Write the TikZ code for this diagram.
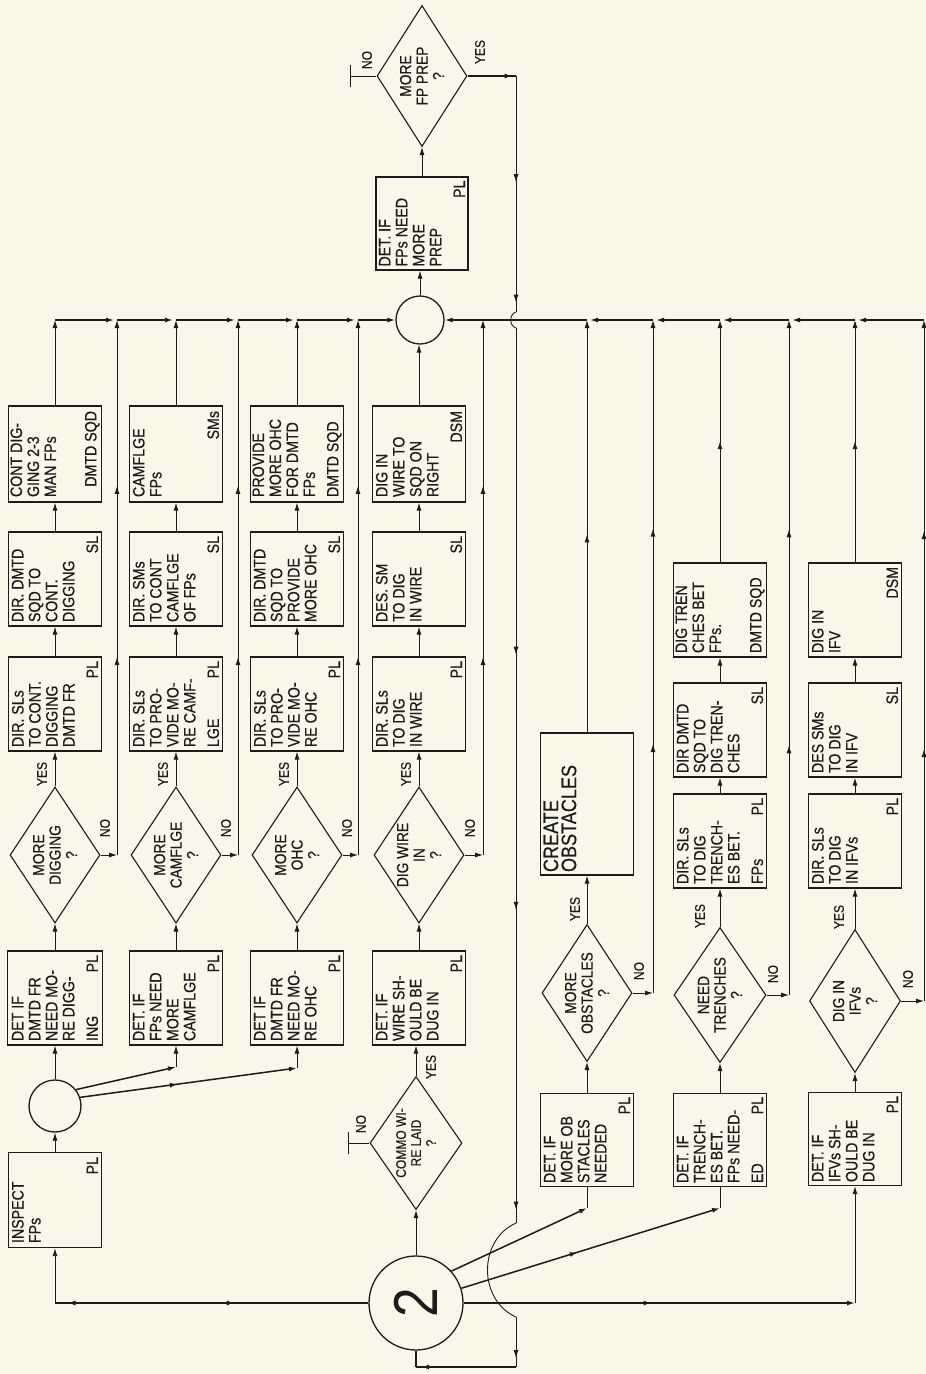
\documentclass[tikz,border=0pt]{standalone}
\usepackage{fontspec}
\setmainfont{Liberation Sans}
\newfontfamily\nrw{Liberation Sans}[FakeStretch=0.86,FakeBold=0.5]
\usetikzlibrary{arrows.meta,decorations.markings,shapes.geometric}
\definecolor{bgc}{RGB}{248,247,234}
\definecolor{ink}{RGB}{28,28,26}
\newcommand\bxfont{\nrw\fontsize{16.5}{17}\selectfont}
\newcommand\dfont{\nrw\fontsize{16}{16.5}\selectfont}
\newcommand\lfont{\nrw\fontsize{14}{14}\selectfont}
\newcommand\rtx[3]{\rotatebox{90}{\parbox[c][#1][s]{#2}{\raggedright\bxfont #3}}}
\newcommand\btx[1]{\rtx{86pt}{86pt}{#1}}
\newcommand\dtx[1]{\rotatebox{90}{\parbox{130pt}{\centering\dfont #1}}}
\tikzset{
  ln/.style={color=ink, line width=0.9pt},
  thk/.style={color=ink, line width=1.5pt},
  arw/.style={-{Latex[length=8pt,width=5pt]}},
  ma/.style={postaction={decorate,decoration={markings,mark=at position #1 with {\arrow{Latex[length=8pt,width=5pt]}}}}},
  bxs/.style={draw=ink, text=ink, line width=1.3pt, rectangle, inner sep=0pt, minimum width=93pt, minimum height=94pt},
  dias/.style={draw=ink, line width=1.1pt, diamond, inner sep=0pt, minimum width=90pt, minimum height=136pt},
  crc/.style={draw=ink, text=ink, line width=1.3pt, circle, inner sep=0pt},
  lab/.style={inner sep=0pt, font=\lfont, rotate=90, text=ink},
  dtxt/.style={inner sep=0pt, text=ink},
}
\begin{document}
\begin{tikzpicture}[x=1pt,y=-1pt]
\useasboundingbox (0,0) rectangle (926,1374);
\fill[bgc] (0,0) rectangle (926,1374);
\coordinate (bus) at (0,320);

% ---------- top ----------
\node[dias, minimum height=141pt] (dia0) at (422,76) {};
\node[dtxt] (dia0t) at (dia0) {\dtx{MORE\\FP PREP\\?}};
\node[bxs, minimum width=92pt, minimum height=93pt] (prep) at (422,223.5) {\btx{DET. IF\\FPs NEED\\MORE\\PREP\par\vfill\hfill PL}};
\node[crc, minimum size=48pt] (c0) at (420,320) {};

% ---------- column 1 ----------
\node[bxs, minimum height=95pt] (insp) at (55,1200) {\btx{INSPECT\\FPs\par\vfill\hfill PL}};
\node[crc, minimum size=52pt] (c1) at (55,1106) {};
\node[bxs, minimum width=95pt] (det1) at (55,998) {\btx{DET IF\\DMTD FR\\NEED MO-\\RE DIGG-\par\vfill ING\hfill PL}};
\node[dias] (dia1) at (55,855) {};
\node[dtxt] (dia1t) at (dia1) {\dtx{MORE\\DIGGING\\?}};
\node[bxs] (dir1a) at (55,704) {\btx{DIR. SLs\\TO CONT.\\DIGGING\\DMTD FR\par\vfill\hfill PL}};
\node[bxs] (dir1b) at (55,579) {\btx{DIR. DMTD\\SQD TO\\CONT.\\DIGGING\par\vfill\hfill SL}};
\node[bxs, minimum height=96pt] (top1) at (55,454) {\btx{CONT DIG-\\GING 2-3\\MAN FPs\par\vfill\hfill DMTD SQD}};

% ---------- column 2 ----------
\node[bxs] (det2) at (176,998) {\btx{DET. IF\\FPs NEED\\MORE\\CAMFLGE\par\vfill\hfill PL}};
\node[dias] (dia2) at (176,855) {};
\node[dtxt] (dia2t) at (dia2) {\dtx{MORE\\CAMFLGE\\?}};
\node[bxs] (dir2a) at (176,704) {\btx{DIR. SLs\\TO PRO-\\VIDE MO-\\RE CAMF-\par\vfill LGE\hfill PL}};
\node[bxs] (dir2b) at (176,579) {\btx{DIR. SMs\\TO CONT\\CAMFLGE\\OF FPs\par\vfill\hfill SL}};
\node[bxs, minimum height=96pt] (top2) at (176,454) {\btx{CAMFLGE\\FPs\par\vfill\hfill SMs}};

% ---------- column 3 ----------
\node[bxs] (det3) at (297,998) {\btx{DET IF\\DMTD FR\\NEED MO-\\RE OHC\par\vfill\hfill PL}};
\node[dias] (dia3) at (297,855) {};
\node[dtxt] (dia3t) at (dia3) {\dtx{MORE\\OHC\\?}};
\node[bxs] (dir3a) at (297,704) {\btx{DIR. SLs\\TO PRO-\\VIDE MO-\\RE OHC\par\vfill\hfill PL}};
\node[bxs] (dir3b) at (297,579) {\btx{DIR. DMTD\\SQD TO\\PROVIDE\\MORE OHC\par\vfill\hfill SL}};
\node[bxs, minimum height=96pt] (top3) at (297,454) {\btx{PROVIDE\\MORE OHC\\FOR DMTD\\FPs\par\vfill DMTD SQD}};

% ---------- column 4 ----------
\node[bxs] (det4) at (419,998) {\btx{DET. IF\\WIRE SH-\\OULD BE\\DUG IN\par\vfill\hfill PL}};
\node[dias] (dia4) at (419,855) {};
\node[dtxt] (dia4t) at (dia4) {\dtx{DIG WIRE\\IN\\?}};
\node[bxs] (dir4a) at (419,704) {\btx{DIR. SLs\\TO DIG\\IN WIRE\par\vfill\hfill PL}};
\node[bxs] (dir4b) at (419,579) {\btx{DES. SM\\TO DIG\\IN WIRE\par\vfill\hfill SL}};
\node[bxs, minimum height=96pt] (top4) at (419,454) {\btx{DIG IN\\WIRE TO\\SQD ON\\RIGHT\par\vfill\hfill DSM}};

% ---------- commo wire / connector 2 ----------
\node[dias, minimum width=92pt, minimum height=133pt] (commo) at (416,1143) {};
\node[dtxt] (commot) at (commo) {\rotatebox{90}{\parbox{130pt}{\centering\nrw\fontsize{14}{15}\selectfont COMMO WI-\\RE LAID\\?}}};
\node[crc, minimum size=94pt] (c2) at (416,1303) {\rotatebox{90}{\fontspec{Liberation Sans}[FakeStretch=0.86]\fontsize{62}{62}\selectfont 2}};

% ---------- column 5 ----------
\node[bxs, minimum height=93pt] (det5) at (587,1140) {\btx{DET. IF\\MORE OB\\STACLES\\NEEDED\par\vfill\hfill PL}};
\node[dias, minimum height=137pt] (dia5) at (587,993) {};
\node[dtxt] (dia5t) at (dia5) {\dtx{MORE\\OBSTACLES\\?}};
\node[bxs, minimum height=142pt] (create) at (587,804) {\rotatebox{90}{\parbox[c][87pt][t]{136pt}{\nrw\fontsize{21}{18}\selectfont CREATE\\OBSTACLES}}};

% ---------- column 6 ----------
\node[bxs, minimum height=93pt] (det6) at (720,1140) {\btx{DET. IF\\TRENCH-\\ES BET.\\FPs NEED-\par\vfill ED\hfill PL}};
\node[dias, minimum width=92pt, minimum height=135pt] (dia6) at (720,995) {};
\node[dtxt] (dia6t) at (dia6) {\dtx{NEED\\TRENCHES\\?}};
\node[bxs] (dir6a) at (720,841) {\btx{DIR. SLs\\TO DIG\\TRENCH-\\ES BET.\par\vfill FPs\hfill PL}};
\node[bxs] (dir6b) at (720,730) {\btx{DIR DMTD\\SQD TO\\DIG TREN-\\CHES\par\vfill\hfill SL}};
\node[bxs] (top6) at (720,610) {\btx{DIG TREN\\CHES BET\\FPs.\par\vfill DMTD SQD}};

% ---------- column 7 ----------
\node[bxs, minimum height=93pt] (det7) at (855,1139) {\btx{DET. IF\\IFVs SH-\\OULD BE\\DUG IN\par\vfill\hfill PL}};
\node[dias, minimum width=91pt, minimum height=143pt] (dia7) at (855,1001) {};
\node[dtxt] (dia7t) at (dia7) {\dtx{DIG IN\\IFVs\\?}};
\node[bxs] (dir7a) at (855,841) {\btx{DIR. SLs\\TO DIG\\IN IFVs\par\vfill\hfill PL}};
\node[bxs] (dir7b) at (855,730) {\btx{DES SMs\\TO DIG\\IN IFV\par\vfill\hfill SL}};
\node[bxs] (top7) at (855,610) {\btx{DIG IN\\IFV\par\vfill\hfill DSM}};

% ---------- coordinates ----------
\coordinate (j1) at (55,320);  \coordinate (j2) at (117,320);
\coordinate (j3) at (176,320); \coordinate (j4) at (238,320);
\coordinate (j5) at (297,320); \coordinate (j6) at (358,320);
\coordinate (r1) at (483,320); \coordinate (r2) at (587,320);
\coordinate (r3) at (653,320); \coordinate (r4) at (720,320);
\coordinate (r5) at (789,320); \coordinate (r6) at (855,320);
\coordinate (r7) at (924,320);
\coordinate (n1) at (117,855); \coordinate (n2) at (238,855);
\coordinate (n3) at (358,855); \coordinate (n4) at (483,855);
\coordinate (n5) at (653,993); \coordinate (n6) at (789,995);
\coordinate (n7) at (924,1001);
\coordinate (b1) at (55,1303);  \coordinate (b2) at (176,1067);
\coordinate (b3) at (297,1068); \coordinate (b5) at (587,1208);
\coordinate (b6) at (720,1208); \coordinate (b7) at (855,1303);
\coordinate (y0) at (516,76);   \coordinate (h1) at (516,312);
\coordinate (h2) at (516,328);  \coordinate (h3) at (516,1223);
\coordinate (h4) at (516,1317); \coordinate (yb) at (516,1367);
\coordinate (yc) at (416,1367);
\coordinate (t0) at (350,76);   \coordinate (tc) at (348,1143);

% ---------- bus ----------
\draw[thk, arw, shorten >=3pt] (j1) -- (j2);
\draw[thk, arw, shorten >=3pt] (j2) -- (j3);
\draw[thk, arw, shorten >=3pt] (j3) -- (j4);
\draw[thk, arw, shorten >=3pt] (j4) -- (j5);
\draw[thk, arw, shorten >=3pt] (j5) -- (j6);
\draw[thk, arw] (j6) -- (c0.west);
\draw[thk, arw, shorten >=3pt] (r7) -- (r6);
\draw[thk, arw, shorten >=3pt] (r6) -- (r5);
\draw[thk, arw, shorten >=3pt] (r5) -- (r4);
\draw[thk, arw, shorten >=3pt] (r4) -- (r3);
\draw[thk, arw, shorten >=3pt] (r3) -- (r2);
\draw[thk] (r2) -- (r1);
\draw[thk, arw] (r1) -- (c0.east);

% ---------- top ----------
\draw[ln, arw] (c0.north) -- (c0.north |- prep.south);
\draw[ln, arw] (dia0.south |- prep.north) -- (dia0.south);
\draw[ln] (dia0.west) -- (t0);
\draw[ln] ([yshift=-11pt]t0) -- ([yshift=11pt]t0);
\draw[thk, ma=0.93] (dia0.east) -- (y0);
\draw[ln, ma=0.45, ma=0.96] (y0) -- (h1);
\draw[ln] (h1) .. controls (509,314) and (509,326) .. (h2);
\draw[ln, ma=0.365, ma=0.65, ma=0.985] (h2) -- (h3);
\draw[ln] (h3) .. controls (478,1240) and (478,1300) .. (h4);
\draw[ln, ma=0.82] (h4) -- (yb);
\draw[thk, ma=0.95] (yb) -- (yc);
\draw[thk] (yc) -- (c2.south);

% ---------- left columns ----------
\draw[ln, arw] (insp.north) -- (c1.south);
\draw[ln, arw] (c1.north) -- (c1.north |- det1.south);
\draw[thk, arw] (c1.38) -- (b2);
\draw[ln, arw] (b2) -- (b2 |- det2.south);
\draw[thk, ma=0.45, arw] (c1.19) -- (b3);
\draw[ln, arw] (b3) -- (b3 |- det3.south);
\draw[ln, arw] (commo.north) -- (commo.north |- det4.south);

\foreach \k/\n/\j in {1/n1/j2, 2/n2/j4, 3/n3/j6, 4/n4/r1}{
  \draw[ln, arw] (det\k.north) -- (det\k.north |- dia\k.south);
  \draw[ln, arw] (dia\k.north) -- (dia\k.north |- dir\k a.south);
  \draw[ln, arw] (dir\k a.north) -- (dir\k a.north |- dir\k b.south);
  \draw[ln, arw] (dir\k b.north) -- (dir\k b.north |- top\k.south);
  \draw[ln, arw] (dia\k.east) -- (\n);
  \draw[ln, arw, ma=0.37, ma=0.69] (\n) -- (\j);
}
\draw[ln, arw] (top1.north) -- (j1);
\draw[ln, arw] (top2.north) -- (j3);
\draw[ln, arw] (top3.north) -- (j5);
\draw[ln, arw] (top4.north) -- (top4.north |- c0.south);

% ---------- connector 2 ----------
\draw[ln, arw] (c2.north) -- (c2.north |- commo.south);
\draw[ln] (commo.west) -- (tc);
\draw[ln] ([yshift=-11pt]tc) -- ([yshift=11pt]tc);
\draw[thk, ma=0.47, ma=0.96] (c2.west) -- (b1);
\draw[ln, arw] (b1) -- (b1 |- insp.south);
\draw[thk, arw] (c2.42) -- (b5);
\draw[ln] (b5) -- (b5 |- det5.south);
\draw[thk, ma=0.45, arw] (c2.18) -- (b6);
\draw[ln] (b6) -- (b6 |- det6.south);
\draw[thk, ma=0.48, arw] (c2.east) -- (b7);
\draw[ln, arw] (b7) -- (b7 |- det7.south);

% ---------- right columns ----------
\draw[ln, arw] (det5.north) -- (det5.north |- dia5.south);
\draw[ln, arw] (dia5.north) -- (dia5.north |- create.south);
\draw[ln, arw, ma=0.48] (create.north) -- (r2);
\draw[ln, arw] (dia5.east) -- (n5);
\draw[ln, arw, ma=0.37, ma=0.69] (n5) -- (r3);
\foreach \k/\n/\j/\t in {6/n6/r5/r4, 7/n7/r7/r6}{
  \draw[ln, arw] (det\k.north) -- (det\k.north |- dia\k.south);
  \draw[ln, arw] (dia\k.north) -- (dia\k.north |- dir\k a.south);
  \draw[ln, arw] (dir\k a.north) -- (dir\k a.north |- dir\k b.south);
  \draw[ln, arw] (dir\k b.north) -- (dir\k b.north |- top\k.south);
  \draw[ln, arw, ma=0.5] (top\k.north) -- (\t);
  \draw[ln, arw] (dia\k.east) -- (\n);
  \draw[ln, arw, ma=0.37, ma=0.69] (\n) -- (\j);
}

% ---------- labels ----------
\node[lab] (y1) at (42,774) {YES};
\node[lab] (y2) at (163,774) {YES};
\node[lab] (y3) at (284,774) {YES};
\node[lab] (y4) at (406,774) {YES};
\node[lab] (o1) at (105,828) {NO};
\node[lab] (o2) at (226,828) {NO};
\node[lab] (o3) at (347,828) {NO};
\node[lab] (o4) at (470,828) {NO};
\node[lab] (y5) at (575,909) {YES};
\node[lab] (y6) at (700,916) {YES};
\node[lab] (y7) at (839,917) {YES};
\node[lab] (o5) at (639,971) {NO};
\node[lab] (o6) at (773,974) {NO};
\node[lab] (o7) at (908,979) {NO};
\node[lab] (o0) at (367,60) {NO};
\node[lab] (y0l) at (480,52) {YES};
\node[lab] (oc) at (361,1124) {NO};
\node[lab] (yc) at (431,1067) {YES};
\end{tikzpicture}
\end{document}
